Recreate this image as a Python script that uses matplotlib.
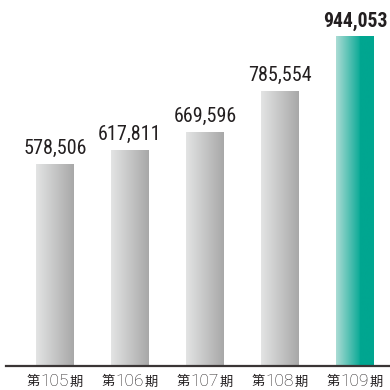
import matplotlib
matplotlib.use("Agg")
import matplotlib.pyplot as plt
import numpy as np
from matplotlib import font_manager
from matplotlib.offsetbox import TextArea, HPacker, AnnotationBbox
from matplotlib.colors import LinearSegmentedColormap

periods = ["105", "106", "107", "108", "109"]
values = [578506, 617811, 669596, 785554, 944053]
value_labels = ["578,506", "617,811", "669,596", "785,554", "944,053"]
highlight = [False, False, False, False, True]

names = {f.name for f in font_manager.fontManager.ttflist}
narrow = "Liberation Sans"
for cand in ["Roboto Condensed", "Archivo Narrow", "Barlow Semi Condensed",
             "Asap Condensed", "Liberation Sans Narrow"]:
    if cand in names:
        narrow = cand
        break
digit_font = "Roboto" if "Roboto" in names else "Liberation Sans"
cjk = "Noto Sans CJK JP"

fig = plt.figure(figsize=(3.9, 3.9), dpi=100)
W = H = 390.0
base_px = 366.0
left_px, right_px = 6.0, 390.0
ax = fig.add_axes([left_px / W, (H - base_px) / H, (right_px - left_px) / W, base_px / H])
scale = 3.5e-4  # px per unit
spacing = 75.0
c0 = 55.0
for s in ["left", "right", "top"]:
    ax.spines[s].set_visible(False)
ax.spines["bottom"].set_color("#3a3535")
ax.spines["bottom"].set_linewidth(1.6)
ax.set_xticks([])
ax.set_yticks([])

x = np.arange(len(values))
bw = 38.0 / spacing
bars = ax.bar(x, values, width=bw, color="none", edgecolor="none", zorder=2)

gray = LinearSegmentedColormap.from_list("g", ["#e3e4e4", "#a8a8a8"])
teal = LinearSegmentedColormap.from_list(
    "t", [(0.0, "#acdcd5"), (0.62, "#10ab98"), (0.63, "#00a690"), (1.0, "#00a690")])
grad = np.linspace(0, 1, 256).reshape(1, -1)
for xi, v, b, hl in zip(x, values, bars, highlight):
    im = ax.imshow(grad, cmap=teal if hl else gray, aspect="auto",
                   extent=[xi - bw / 2, xi + bw / 2, 0, v], zorder=2,
                   interpolation="bilinear")
    im.set_clip_path(b)
ax.set_xlim(-(c0 - left_px) / spacing, (right_px - c0) / spacing)
ax.set_ylim(0, base_px / scale)

for xi, v, lab, hl in zip(x, values, value_labels, highlight):
    ax.annotate(lab, (xi, v), xytext=(0, 5 if hl else 6), textcoords="offset pixels",
                ha="center", va="bottom", fontsize=14.2 if hl else 14.5,
                fontweight="bold" if hl else "normal",
                family=[narrow, "DejaVu Sans"], color="#231f20")

for xi, p in zip(x, periods):
    t1 = TextArea("第", textprops=dict(family=[cjk], fontsize=9.5, color="#231f20"))
    t2 = TextArea(p, textprops=dict(family=[digit_font], fontweight="light",
                                    fontsize=12.5, color="#231f20"))
    t3 = TextArea("期", textprops=dict(family=[cjk], fontsize=9.5, color="#231f20"))
    pk = HPacker(children=[t1, t2, t3], align="baseline", pad=0, sep=0.5)
    ab = AnnotationBbox(pk, (xi, 0), xybox=(0, -15), xycoords="data",
                        boxcoords="offset pixels", frameon=False, box_alignment=(0.5, 0.5),
                        annotation_clip=False)
    ax.add_artist(ab)

fig.savefig("out.png", dpi=100)
